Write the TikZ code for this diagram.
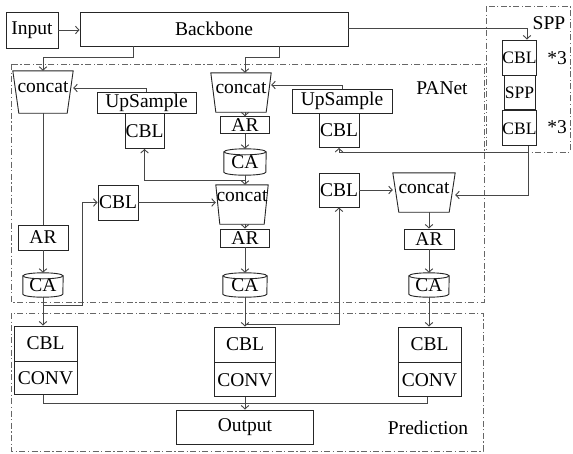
\documentclass[tikz,border=0pt]{standalone}
\usepackage{fontspec}
\setmainfont{Liberation Serif}
\usetikzlibrary{arrows.meta,calc}
\tikzset{
  bx/.style={draw=black!85, line width=0.9pt, inner sep=0pt, font=\fontsize{19.5}{21}\selectfont},
  bxs/.style={bx, font=\fontsize{17.5}{19}\selectfont},
  ghost/.style={inner sep=0pt, font=\fontsize{19.5}{21}\selectfont},
  txt/.style={inner sep=0pt, font=\fontsize{19.5}{21}\selectfont},
  conn/.style={draw=black!72, line width=0.9pt},
  arr/.style={conn, -{Straight Barb[length=3.5pt,width=7.5pt]}},
  grp/.style={draw=black!60, line width=0.9pt, dash pattern=on 6pt off 2.5pt on 1.2pt off 2.5pt},
  trap/.style={draw=black!85, line width=0.9pt},
}
% trapezoid outline around an invisible node: #1 name, #2 inset at bottom
\newcommand\trapz[2]{\draw[trap] (#1.north west) -- ([xshift=#2pt]#1.south west) -- ([xshift=-#2pt]#1.south east) -- (#1.north east) -- cycle;}
% cylinder outline around an invisible node: #1 name, #2 half width
\newcommand\cylz[2]{%
  \draw[trap] ([yshift=-3pt]#1.north) ellipse [x radius=#2pt, y radius=3pt];
  \draw[trap] ([yshift=-3pt]#1.north west) -- ([yshift=3pt]#1.south west) arc [start angle=180, end angle=360, x radius=#2pt, y radius=3pt] -- ([yshift=-3pt]#1.north east);}
\begin{document}
\begin{tikzpicture}[x=1pt,y=-1pt]
\useasboundingbox (0,0) rectangle (573,453);
\fill[white] (0,0) rectangle (573,453);

% group frames
\draw[grp] (11,64) rectangle (484,302);
\draw[grp] (486,6) rectangle (570,152);
\draw[grp] (11,313) rectangle (483,451);
\node[txt] (lpanet) at (442,88) {PANet};
\node[txt] (lspp) at (549,23) {SPP};
\node[txt] (lpred) at (428,428) {Prediction};

% top row
\node[bx, minimum width=52pt, minimum height=36pt] (inp) at (32,30) {Input};
\node[bx, minimum width=268pt, minimum height=34pt] (bb) at (214,29) {Backbone};
\coordinate (b1) at (133,46);
\coordinate (b2) at (279,46);

% SPP stack
\node[bxs, minimum width=31pt, minimum height=35pt] (spp1) at (519.5,57.5) {CBL};
\node[bxs, minimum width=31pt, minimum height=34pt, anchor=north] (spp2) at (spp1.south) {SPP};
\node[bxs, minimum width=31pt, minimum height=35pt, anchor=north] (spp3) at (spp2.south) {CBL};
\node[txt] (m1) at (557,58) {*3};
\node[txt] (m2) at (557,127) {*3};

% left column
\node[ghost, minimum width=60pt, minimum height=42pt] (lc) at (43,92) {};
\trapz{lc}{6}
\node[txt] (lct) at (43,87) {concat};
\node[bx, minimum width=99pt, minimum height=21pt] (us1) at (146.5,102.5) {UpSample};
\node[bx, minimum width=39pt, minimum height=35pt, anchor=north] (cbl1) at (144.5,113) {CBL};
\node[bx, minimum width=50pt, minimum height=25pt] (ar0) at (43,237.5) {AR};
\node[ghost, minimum width=40pt, minimum height=24pt] (ca0) at (43,285) {CA};
\cylz{ca0}{20}
\node[bx, minimum width=40pt, minimum height=35pt] (cbl3) at (118,202.5) {CBL};

% middle column
\node[ghost, minimum width=60pt, minimum height=39pt] (mc) at (241,92.5) {};
\trapz{mc}{5}
\node[txt] (mct) at (241,88) {concat};
\node[bx, minimum width=49pt, minimum height=16.5pt] (ar1) at (245,125) {AR};
\node[ghost, minimum width=42pt, minimum height=26pt] (ca1) at (245,162) {CA};
\cylz{ca1}{21}
\node[ghost, minimum width=52pt, minimum height=39pt] (lmc) at (242,204.5) {};
\trapz{lmc}{4}
\node[txt] (lmct) at (242,196) {concat};
\node[bx, minimum width=49pt, minimum height=18pt] (ar2) at (245,238) {AR};
\node[ghost, minimum width=44pt, minimum height=24pt] (ca2) at (245,285) {CA};
\cylz{ca2}{22}

% right column
\node[bx, minimum width=100pt, minimum height=24pt] (us2) at (342,101) {UpSample};
\node[bx, minimum width=40pt, minimum height=34pt, anchor=north] (cbl2) at (339,113) {CBL};
\node[bx, minimum width=40pt, minimum height=34pt] (cbl4) at (339,190) {CBL};
\node[ghost, minimum width=62pt, minimum height=39pt] (rc) at (424,192.5) {};
\trapz{rc}{6}
\node[txt] (rct) at (424,188) {concat};
\node[bx, minimum width=50pt, minimum height=20pt] (ar3) at (429,239) {AR};
\node[ghost, minimum width=40pt, minimum height=24pt] (ca3) at (429,285) {CA};
\cylz{ca3}{20}

% prediction
\node[bx, minimum width=63pt, minimum height=35pt] (pl) at (45.5,343.5) {CBL};
\node[bx, minimum width=63pt, minimum height=33pt, anchor=north] (plc) at (pl.south) {CONV};
\node[bx, minimum width=61pt, minimum height=35pt] (pm) at (245,344.5) {CBL};
\node[bx, minimum width=61pt, minimum height=34pt, anchor=north] (pmc) at (pm.south) {CONV};
\node[bx, minimum width=63pt, minimum height=35pt] (pr) at (429.5,344.5) {CBL};
\node[bx, minimum width=63pt, minimum height=34pt, anchor=north] (prc) at (pr.south) {CONV};
\node[bx, minimum width=137pt, minimum height=34pt] (out) at (245,427) {Output};

% junction coordinates
\coordinate (j1) at (245,180);
\coordinate (j2) at (528,152.5);
\coordinate (j3) at (43,305);
\coordinate (j4) at (245,324);
\coordinate (j5) at (245,403);

% connectors
\draw[arr] (inp.east) -- (bb.west |- inp.east);
\draw[arr] (b1) -- (133,57) -| (lc.north);
\draw[arr] (b2) -- (279,57) -| (ar1.north |- mc.north);
\draw[arr] (bb.east |- 0,28) -| ([xshift=7.5pt]spp1.north);
\draw[arr] (us1.north) |- (lc.east |- 0,88);
\draw[arr] (us2.north) |- (mc.east |- 0,85);
\draw[arr] (ar1.north |- mc.south) -- (ar1.north);
\draw[arr] (ar1.south) -- (ca1.north);
\draw[arr] (ca1.south) -- (ca1.south |- lmc.north);
\draw[arr] (j1) -| (cbl1.south);
\draw[arr] ([xshift=8.5pt]spp3.south) |- (rc.east |- 0,195);
\draw[arr] (j2) -| (cbl2.south);
\draw[conn] (lc.south) -- (ar0.north);
\draw[arr] (ar0.south) -- (ca0.north);
\draw[arr] (ca0.south) -- (pl.north -| ca0.south);
\draw[arr] (j3) -- (82,305) |- (cbl3.west);
\draw[arr] (cbl3.east) -- (lmc.west |- cbl3.east);
\draw[arr] (lmc.south -| ar2.north) -- (ar2.north);
\draw[arr] (ar2.south) -- (ca2.north);
\draw[arr] (ca2.south) -- (pm.north);
\draw[arr] (j4) -| (cbl4.south);
\draw[arr] (cbl4.east) -- (rc.west |- cbl4.east);
\draw[arr] (rc.south -| ar3.north) -- (ar3.north);
\draw[arr] (ar3.south) -- (ca3.north);
\draw[arr] (ca3.south) -- (pr.north -| ca3.south);
\draw[conn] (plc.south -| ca0.south) |- (j5);
\draw[conn] ([xshift=-2.5pt]prc.south) |- (j5);
\draw[arr] (pmc.south) -- (out.north);
\end{tikzpicture}
\end{document}
